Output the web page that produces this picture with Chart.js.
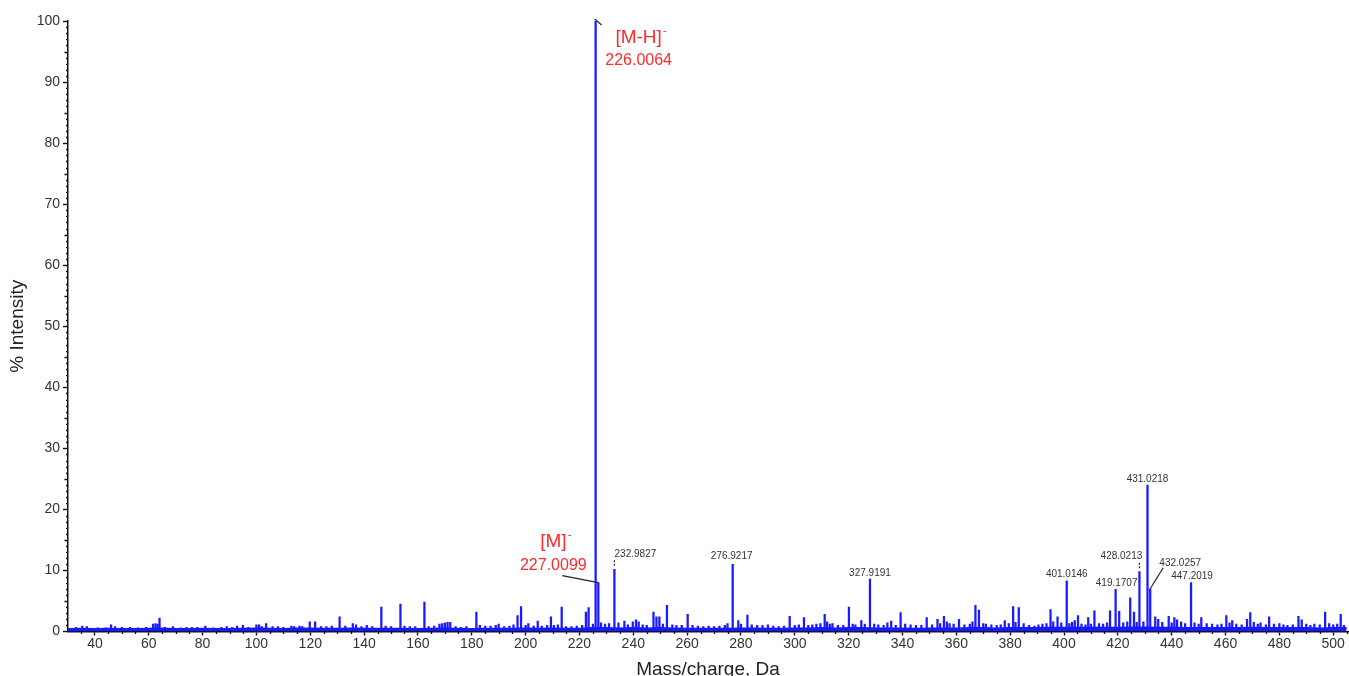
<!DOCTYPE html>
<html>
<head>
<meta charset="utf-8">
<style>
html,body{margin:0;padding:0;background:#fff;overflow:hidden}
#wrap{width:1349px;height:676px;position:relative}
</style>
<script src="https://cdn.jsdelivr.net/npm/chart.js@4.4.1/dist/chart.umd.min.js"></script>
</head>
<body>
<div id="wrap"><canvas id="ms"></canvas></div>
<script>
/* spectrum data */
const peakMz=[
 33,35.3,37,41,44,46,47.5,50,53,56,59,61.6,62.5,63.3,64,66,69,72,74,76,78,81,84,87,89,91,92.8,95,97,
 100,101,102,103.6,106,108,110,113,114,116,117,119.8,121.8,124,126,128,130.9,133,135.8,137,139,141,143,146.4,148,150,
 153.5,155,157,159,162.4,164,166,168,169,170,171,172,174,176,178,181.7,183,185,187,188.9,190,192,194,195.5,197,198.3,
 200,201,203,204.5,206,208,209.4,210.5,212,213.4,215,217,219,221,222.4,223.4,225,226.0064,227.0099,228,229.5,231,232.9827,
 234.5,236.7,238,239.8,241,242,243.5,245,247.5,248.6,249.7,251,252.5,254.5,256,258,260.2,262,264,266,268,
 270,272,274,275,276.9217,279,280,282.4,284,286,288,290,292,294,296,298.1,300,301.5,303.4,305,306.5,308,309.5,311.1,312,313,314,
 316,318,320.1,321.5,322.5,324.7,326,327.9191,329.5,331,333,334.4,335.8,337.5,339.3,341,343,345,347,349,351,353,354,355.4,356.5,
 357.5,359,361,363,365,366,367.1,368.4,370,371,373,375,376.5,378,379.5,381.1,382,383.2,385,
 387,389,390.5,392,393.5,395,396,397.6,399,401.0146,402,403,404,405.2,406.5,408,409,410,411.3,413,414.5,416,417.1,419.1707,420.5,
 422,423.5,424.6,426,427,428.0213,429.5,431.0218,432.0257,433.9,435,436.5,438.9,440,441,442,443.5,445,447.2019,448.5,450,451,453,
 455,457,458.5,460.3,461.5,462.5,464,466,468,469.2,470.5,472,473,475,476.2,478,480,481.5,483,485,487.1,488.3,490,491.5,493,495,
 497,498.5,500,501.5,502.8,504
];
const peakIntensity=[
 0.7,0.9,0.8,0.6,0.6,1.1,0.8,0.7,0.7,0.6,0.7,1.2,1.3,1.2,2.2,0.7,0.8,0.6,0.7,0.7,0.7,0.9,0.6,0.7,0.8,0.7,0.9,1.0,0.7,
 1.1,1.1,0.8,1.3,0.8,0.8,0.7,0.9,0.8,0.9,0.8,1.6,1.6,0.8,0.8,0.9,2.4,0.9,1.3,1.1,0.8,1.0,0.8,4.0,0.9,0.8,
 4.5,0.9,0.8,0.8,4.8,0.8,0.9,1.2,1.3,1.4,1.5,1.5,0.8,0.7,0.8,3.2,1.0,0.9,0.9,1.0,1.2,0.8,0.9,1.1,2.6,4.1,
 1.0,1.3,0.9,1.7,0.9,1.0,2.4,1.0,1.1,4.0,0.8,0.8,0.9,1.0,3.2,3.9,1.2,100,8.0,1.4,1.2,1.3,10.2,
 1.4,1.7,1.1,1.6,1.9,1.6,1.1,1.0,3.2,2.4,2.4,1.2,4.3,1.1,1.0,1.0,2.8,1.0,0.9,0.8,0.9,
 0.8,0.9,1.0,1.3,11.0,1.8,1.2,2.7,1.1,1.0,1.0,1.1,0.9,0.8,0.9,2.5,1.0,1.1,2.3,1.0,1.1,1.2,1.3,2.8,1.6,1.2,1.3,
 1.0,1.0,4.0,1.2,1.1,1.8,1.2,8.6,1.2,1.1,1.0,1.4,1.7,1.0,3.1,1.2,1.1,1.0,1.0,2.3,1.1,2.0,1.3,2.5,1.6,
 1.3,1.2,2.0,1.1,1.2,1.6,4.3,3.5,1.3,1.2,1.1,1.0,1.1,1.8,1.3,4.1,1.5,3.9,1.3,
 1.0,0.9,1.1,1.2,1.3,3.6,1.6,2.4,1.4,8.3,1.3,1.5,1.8,2.6,1.2,1.1,2.3,1.2,3.4,1.3,1.2,1.4,3.4,6.9,3.3,
 1.4,1.6,5.5,3.2,1.5,9.8,1.6,24.0,7.0,2.4,2.0,1.5,2.5,1.4,2.3,1.9,1.6,1.3,8.0,1.4,1.2,2.3,1.3,
 1.2,1.1,1.2,2.6,1.4,1.8,1.2,1.1,2.0,3.1,1.5,1.2,1.4,1.1,2.4,1.2,1.3,1.1,1.0,1.1,2.5,1.9,1.2,1.0,1.2,1.1,
 3.2,1.3,1.1,1.2,2.8,1.0
];

/* baseline noise band, every 5 Da from 30 */
const grassMz=[30,35,40,45,50,55,60,65,70,75,80,85,90,95,100,105,110,115,120,125,130,135,140,145,150,155,160,165,170,175,
 180,185,190,195,200,205,210,215,220,225,230,235,240,245,250,255,260,265,270,275,280,285,290,295,300,305,310,315,320,325,
 330,335,340,345,350,355,360,365,370,375,380,385,390,395,400,405,410,415,420,425,430,435,440,445,450,455,460,465,470,475,
 480,485,490,495,500,505];
const grassLevel=[0.45,0.5,0.45,0.5,0.45,0.45,0.5,0.55,0.45,0.45,0.5,0.45,0.45,0.5,0.55,0.5,0.45,0.55,0.55,0.5,0.5,0.55,0.5,0.5,0.5,0.5,0.45,0.5,0.55,0.5,
 0.45,0.5,0.5,0.5,0.55,0.5,0.55,0.5,0.5,0.6,0.6,0.55,0.6,0.55,0.6,0.55,0.5,0.5,0.5,0.5,0.55,0.55,0.5,0.5,0.55,0.55,0.6,0.55,0.6,0.6,
 0.55,0.55,0.55,0.5,0.55,0.55,0.55,0.6,0.6,0.55,0.6,0.6,0.6,0.65,0.65,0.65,0.65,0.65,0.65,0.7,0.7,0.65,0.65,0.6,0.6,0.6,0.6,0.6,0.65,0.6,
 0.6,0.6,0.6,0.55,0.6,0.6];

const xTickStep=20;
const yTickStep=10;

/* annotated peaks */
const noteMz=[226.0064,227.0099,232.9827,276.9217,327.9191,401.0146,419.1707,428.0213,431.0218,432.0257,447.2019];
const noteIon=['[M-H]','[M]','','','','','','','','',''];

/* label placement per annotated peak: dx, dy from the peak top, and leader style */
const NOTE_STYLE={
 226.0064:{dx:43,dy:40,ionDy:17,lead:'diag'},
 227.0099:{dx:-45,dy:-17,ionDy:-41,lead:'long'},
 232.9827:{dx:21,dy:-15,lead:'tick'},
 276.9217:{dx:-1,dy:-8},
 327.9191:{dx:0,dy:-6},
 401.0146:{dx:0,dy:-7},
 419.1707:{dx:1,dy:-6},
 428.0213:{dx:-18,dy:-15,lead:'tick'},
 431.0218:{dx:0,dy:-6},
 432.0257:{dx:30,dy:-26,lead:'up'},
 447.2019:{dx:1,dy:-6}
};

const RED='#ff2b2b';
const FONT='"Liberation Sans", Arial, sans-serif';

const minorTicks={
    id:'minorTicks',
    afterDraw(chart) {
        const {ctx,scales:{x,y},chartArea:a}=chart;
        ctx.save();
        ctx.strokeStyle='#111'; ctx.lineWidth=1.3;
        ctx.beginPath();
        for (let v=1;v<100;v++) {
            if (v%yTickStep===0) continue;
            const py=Math.round(y.getPixelForValue(v))+0.5;
            const len=v%5===0?3.5:2;
            ctx.moveTo(a.left-len,py); ctx.lineTo(a.left,py);
        }
        for (let v=35;v<=x.max;v+=5) {
            if (v%xTickStep===0) continue;
            const px=Math.round(x.getPixelForValue(v))+0.5;
            ctx.moveTo(px,a.bottom); ctx.lineTo(px,a.bottom+2.5);
        }
        ctx.stroke();
        ctx.restore();
    }
};

const peakNotes={
    id:'peakNotes',
    afterDatasetsDraw(chart) {
        const {ctx,scales:{x,y}}=chart;
        ctx.save();
        ctx.textAlign='center'; ctx.textBaseline='middle';
        noteMz.forEach((mz,i)=>{
            const st=NOTE_STYLE[mz];
            const k=peakMz.indexOf(mz);
            const px=x.getPixelForValue(mz);
            const py=y.getPixelForValue(peakIntensity[k]);
            const lx=px+st.dx, ly=py+st.dy;
            ctx.strokeStyle='#222'; ctx.lineWidth=1.2;
            if (st.lead==='diag') {
                ctx.beginPath(); ctx.moveTo(px-1,py-2); ctx.lineTo(px+6,py+4); ctx.stroke();
            } else if (st.lead==='long') {
                ctx.beginPath(); ctx.moveTo(px-36,py-7); ctx.lineTo(px,py); ctx.stroke();
            } else if (st.lead==='tick') {
                ctx.setLineDash([2,1.5]);
                ctx.beginPath(); ctx.moveTo(px,py-9); ctx.lineTo(px,py-3); ctx.stroke();
                ctx.setLineDash([]);
            } else if (st.lead==='up') {
                ctx.beginPath(); ctx.moveTo(px,py); ctx.lineTo(px+13,py-21); ctx.stroke();
            }
            if (noteIon[i]) {
                ctx.fillStyle=RED;
                ctx.font='19px '+FONT;
                const ix=px+st.dx, iy=py+st.ionDy;
                ctx.fillText(noteIon[i],ix,iy);
                const w=ctx.measureText(noteIon[i]).width;
                ctx.font='11px '+FONT;
                ctx.fillText('-',ix+w/2+3,iy-7);
                ctx.font='16px '+FONT;
                ctx.fillText(mz.toFixed(4),lx,ly);
            } else {
                ctx.fillStyle='#333';
                ctx.font='10px '+FONT;
                ctx.fillText(mz.toFixed(4),lx,ly);
            }
        });
        ctx.restore();
    }
};

new Chart(document.getElementById('ms'),{
    type:'bar',
    data:{
        datasets:[
            {
                type:'bar',
                data:peakMz.map((m,i)=>({x:m,y:peakIntensity[i]})),
                backgroundColor:'#1a1aff',
                barThickness:1.6,
                grouped:false,
                order:1
            },
            {
                type:'line',
                data:grassMz.map((m,i)=>({x:m,y:grassLevel[i]})),
                borderColor:'#1a1aff',
                borderWidth:1.5,
                backgroundColor:'#1a1aff',
                fill:'origin',
                pointRadius:0,
                tension:0,
                order:2
            }
        ]
    },
    options:{
        responsive:true,
        maintainAspectRatio:false,
        animation:false,
        layout:{padding:{top:21,right:1,left:0,bottom:0}},
        plugins:{legend:{display:false},tooltip:{enabled:false}},
        scales:{
            x:{
                type:'linear', min:30, max:505.5, offset:false,
                ticks:{stepSize:xTickStep, includeBounds:false, autoSkip:false, maxRotation:0, padding:0,
                    color:'#333', font:{family:FONT,size:14}},
                grid:{offset:false, drawOnChartArea:false, tickLength:4, tickColor:'#111', tickWidth:1.4},
                border:{color:'#111', width:1.5},
                title:{display:true, text:'Mass/charge, Da', color:'#222', padding:0,
                    font:{family:FONT,size:19,lineHeight:0.7}},
                afterFit:s=>{s.height=44.5;}
            },
            y:{
                min:0, max:100,
                ticks:{stepSize:yTickStep, padding:3, color:'#333', font:{family:FONT,size:14}},
                grid:{drawOnChartArea:false, tickLength:5, tickColor:'#111', tickWidth:1.4},
                border:{color:'#111', width:1.5},
                title:{display:true, text:'% Intensity', color:'#222', padding:{top:6,bottom:0},
                    font:{family:FONT,size:19}},
                afterFit:s=>{s.width=68;}
            }
        }
    },
    plugins:[minorTicks,peakNotes]
});
</script>
</body>
</html>
